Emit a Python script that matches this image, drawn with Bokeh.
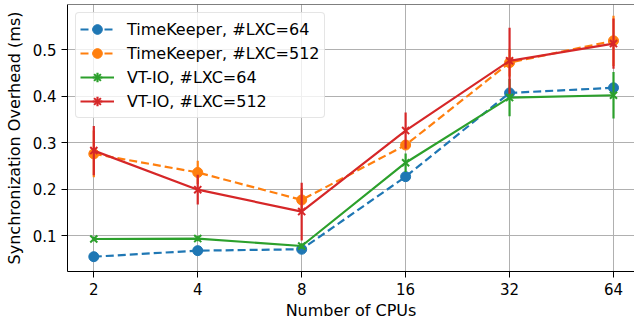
import numpy as np
from bokeh.plotting import figure
from bokeh.models import (ColumnDataSource, FixedTicker, Legend, LegendItem, Range1d, Span)
from bokeh.embed import file_html
from bokeh.resources import INLINE

# ---------------- data ----------------
cpus = [2, 4, 8, 16, 32, 64]
cpu_tick_labels = ["2", "4", "8", "16", "32", "64"]
y_ticks = [0.1, 0.2, 0.3, 0.4, 0.5]

tk64_mean = [0.055, 0.068, 0.071, 0.227, 0.407, 0.418]
tk64_err = [0.004, 0.004, 0.004, 0.006, 0.006, 0.006]

tk512_mean = [0.276, 0.236, 0.177, 0.295, 0.472, 0.519]
tk512_err = [0.050, 0.025, 0.025, 0.010, 0.030, 0.054]

vt64_mean = [0.093, 0.094, 0.078, 0.257, 0.397, 0.402]
vt64_err = [0.005, 0.006, 0.006, 0.020, 0.040, 0.050]

vt512_mean = [0.283, 0.199, 0.152, 0.326, 0.476, 0.513]
vt512_err = [0.053, 0.032, 0.062, 0.039, 0.071, 0.054]

series = [
    ("TimeKeeper, #LXC=64", tk64_mean, tk64_err, "#1f77b4", "circle", "8 4"),
    ("TimeKeeper, #LXC=512", tk512_mean, tk512_err, "#ff7f0e", "circle", "8 4"),
    ("VT-IO, #LXC=64", vt64_mean, vt64_err, "#2ca02c", "x", "solid"),
    ("VT-IO, #LXC=512", vt512_mean, vt512_err, "#d62728", "x", "solid"),
]

FONT = "DejaVu Sans"

x_lo = 2 * 2 ** -0.253
x_hi = 64 * 2 ** 0.202
y_lo, y_hi = 0.0232, 0.597

p = figure(width=634, height=324, x_axis_type="log",
           x_range=Range1d(x_lo, x_hi), y_range=Range1d(y_lo, y_hi),
           output_backend="svg", toolbar_location=None,
           min_border_left=67, min_border_right=0, min_border_top=4, min_border_bottom=53)
p.background_fill_color = "white"
p.border_fill_color = "white"
p.outline_line_color = None

items = []
for label, mean, err, color, marker, dash in series:
    m = np.array(mean)
    e = np.array(err)
    src = ColumnDataSource(dict(x=cpus, y=mean, lo=list(m - e), hi=list(m + e),
                                none=[float("nan")] * len(cpus)))
    p.segment(x0="x", y0="lo", x1="x", y1="hi", source=src, line_color=color, line_width=2.2)
    ln = p.line("x", "y", source=src, line_color=color, line_width=2.2, line_dash=dash)
    # legend-only error-bar glyph (NaN positions: nothing drawn in the plot)
    bar = p.scatter("x", "none", source=src, marker="cross", size=20,
                    line_color=color, line_width=2.2)
    if marker == "circle":
        sc = p.scatter("x", "y", source=src, marker="circle", size=10,
                       fill_color=color, line_color=color, line_width=1)
    else:
        sc = p.scatter("x", "y", source=src, marker="x", size=10,
                       line_color=color, line_width=2)
    items.append(LegendItem(label=label, renderers=[ln, bar, sc]))

# top spine
p.add_layout(Span(location=y_hi, dimension="width", line_color="black", line_width=1))

# axes
p.xaxis.ticker = FixedTicker(ticks=cpus)
p.xaxis.major_label_overrides = {c: t for c, t in zip(cpus, cpu_tick_labels)}
p.xgrid.ticker = FixedTicker(ticks=cpus)
p.yaxis.ticker = FixedTicker(ticks=y_ticks)
p.ygrid.ticker = FixedTicker(ticks=y_ticks)

for ax in (p.xaxis[0], p.yaxis[0]):
    ax.axis_line_color = "black"
    ax.axis_line_width = 1
    ax.major_tick_line_color = "black"
    ax.major_tick_line_width = 1
    ax.major_tick_out = 6
    ax.major_tick_in = 0
    ax.minor_tick_line_color = None
    ax.major_label_text_font = FONT
    ax.major_label_text_font_size = "15px"
    ax.major_label_text_color = "black"
    ax.axis_label_text_font = FONT
    ax.axis_label_text_font_size = "16px"
    ax.axis_label_text_font_style = "normal"
    ax.axis_label_text_color = "black"
    ax.major_label_standoff = 5

p.xaxis.axis_label = "Number of CPUs"
p.yaxis.axis_label = "Synchronization Overhead (ms)"
p.xaxis.axis_label_standoff = 3
p.yaxis.axis_label_standoff = 6

for g in (p.xgrid[0], p.ygrid[0]):
    g.grid_line_color = "#b0b0b0"
    g.grid_line_width = 1

legend = Legend(items=items, location="top_left")
legend.margin = 8
legend.padding = 4
legend.spacing = 0
legend.glyph_width = 34
legend.glyph_height = 24
legend.label_height = 24
legend.label_standoff = 13
legend.label_text_font = FONT
legend.label_text_font_size = "16px"
legend.label_text_color = "black"
legend.background_fill_color = "white"
legend.background_fill_alpha = 0.8
legend.border_line_color = "#cccccc"
legend.border_line_width = 1
if "border_radius" in Legend.properties():
    legend.border_radius = 4
p.add_layout(legend, "center")

open("out.html", "w").write(file_html(p, INLINE))
